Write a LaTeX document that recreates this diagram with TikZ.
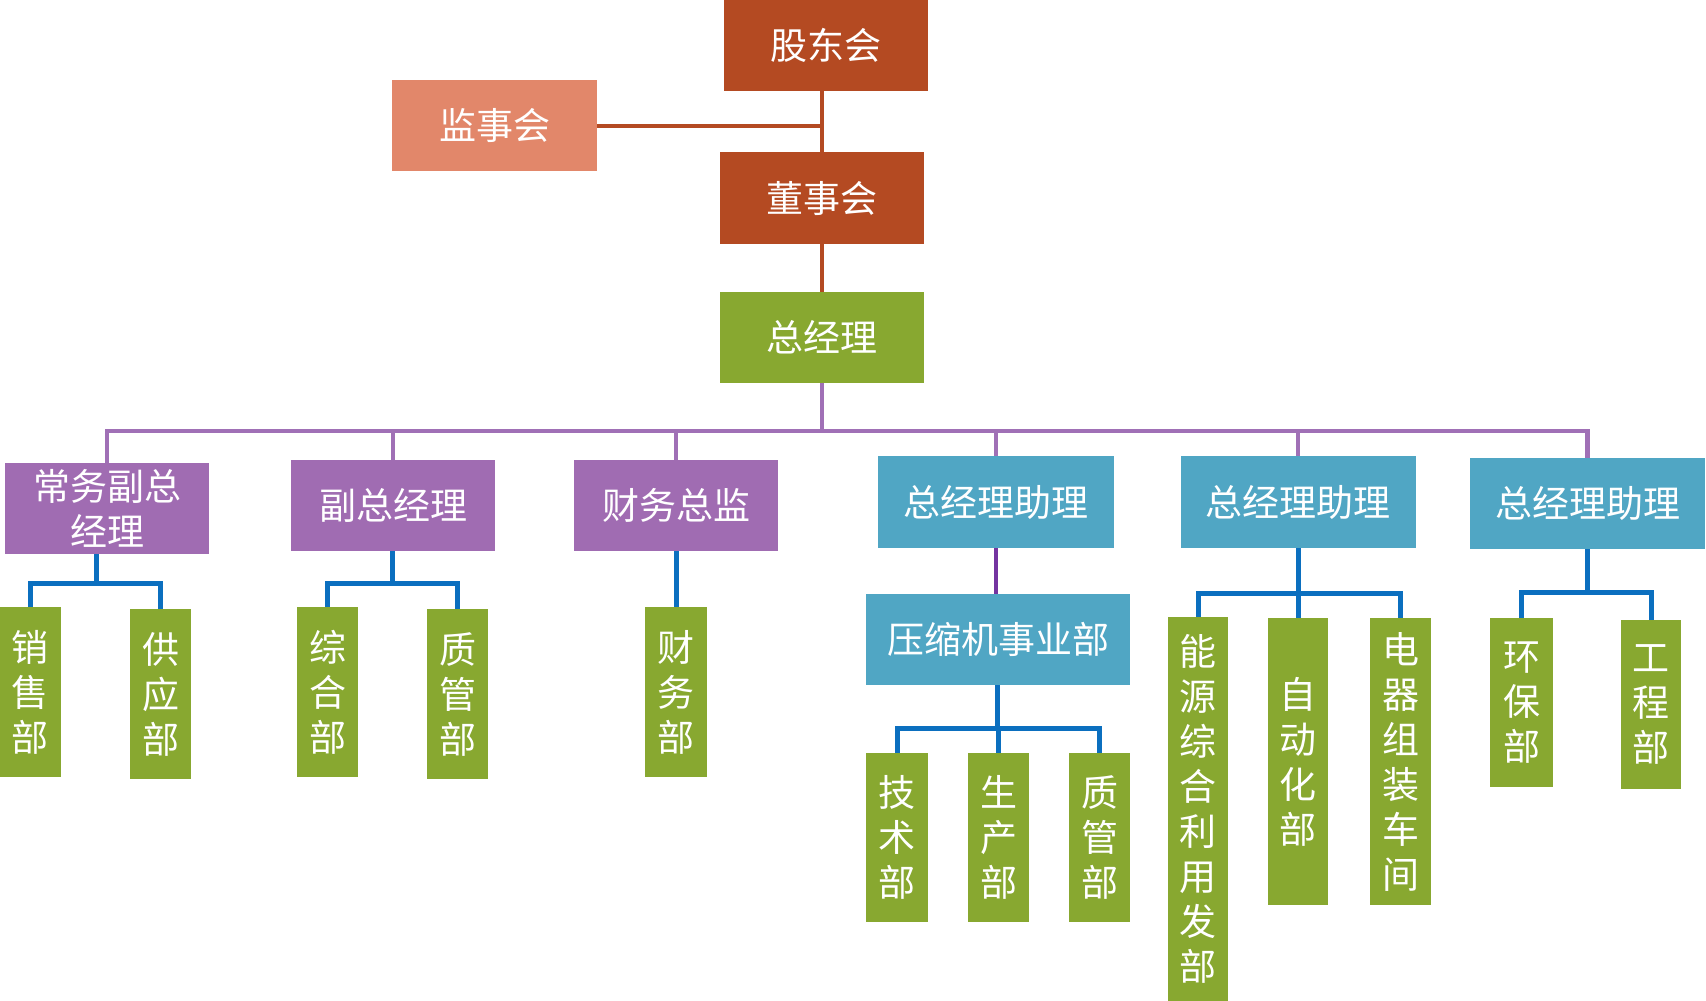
\documentclass[tikz,border=0pt]{standalone}
\usepackage{fontspec}
\setmainfont{Noto Sans CJK SC}
\definecolor{cred}{HTML}{B44A22}
\definecolor{csalmon}{HTML}{E2876A}
\definecolor{cgreen}{HTML}{88A830}
\definecolor{cpurple}{HTML}{A06CB2}
\definecolor{cblue}{HTML}{50A6C4}
\definecolor{lblue}{HTML}{0B6FBF}
\definecolor{lpurple}{HTML}{A070B6}
\definecolor{ldpurple}{HTML}{7434A0}
\tikzset{
  orgbox/.style={draw=none, inner sep=0pt, text=white, align=center,
    font=\fontsize{37}{45}\selectfont},
  redbox/.style={orgbox, fill=cred},
  salbox/.style={orgbox, fill=csalmon},
  grnbox/.style={orgbox, fill=cgreen},
  purbox/.style={orgbox, fill=cpurple},
  blubox/.style={orgbox, fill=cblue},
  redline/.style={draw=cred, line width=4pt},
  purline/.style={draw=lpurple, line width=4.5pt},
  dpline/.style={draw=ldpurple, line width=4.5pt},
  bluline/.style={draw=lblue, line width=5pt},
}
\begin{document}
\begin{tikzpicture}[x=1pt,y=-1pt]
\useasboundingbox (0,0) rectangle (1706,1001);
% top
\node[redbox, minimum width=204pt, minimum height=91pt] (gd) at (826,45.5) {股东会};
\node[salbox, minimum width=205pt, minimum height=91pt] (js) at (494.5,125.5) {监事会};
\node[redbox, minimum width=204pt, minimum height=92pt] (ds) at (822,198) {董事会};
\node[grnbox, minimum width=204pt, minimum height=91pt] (zjl) at (822,337.5) {总经理};
% second level
\node[purbox, minimum width=204pt, minimum height=91pt] (cw) at (107,508.5) {常务副总\\经理};
\node[purbox, minimum width=204pt, minimum height=91pt] (fz) at (393,505.5) {副总经理};
\node[purbox, minimum width=204pt, minimum height=91pt] (cz) at (676,505.5) {财务总监};
\node[blubox, minimum width=236pt, minimum height=92pt] (zl1) at (996,502) {总经理助理};
\node[blubox, minimum width=235pt, minimum height=92pt] (zl2) at (1298,502) {总经理助理};
\node[blubox, minimum width=235pt, minimum height=91pt] (zl3) at (1587.5,503.5) {总经理助理};
\node[blubox, minimum width=264pt, minimum height=91pt] (ysj) at (998,639.5) {压缩机事业部};
% departments
\node[grnbox, minimum width=61pt, minimum height=170pt] (xs) at (30.5,692) {销\\售\\部};
\node[grnbox, minimum width=61pt, minimum height=170pt] (gy) at (160.5,694) {供\\应\\部};
\node[grnbox, minimum width=61pt, minimum height=170pt] (zh) at (327.5,692) {综\\合\\部};
\node[grnbox, minimum width=61pt, minimum height=170pt] (zg) at (457.5,694) {质\\管\\部};
\node[grnbox, minimum width=62pt, minimum height=170pt] (cwb) at (676,692) {财\\务\\部};
\node[grnbox, minimum width=62pt, minimum height=169pt] (js2) at (897,837.5) {技\\术\\部};
\node[grnbox, minimum width=61pt, minimum height=169pt] (sc) at (998.5,837.5) {生\\产\\部};
\node[grnbox, minimum width=61pt, minimum height=169pt] (zg2) at (1099.5,837.5) {质\\管\\部};
\node[grnbox, minimum width=60pt, minimum height=384pt] (ny) at (1198,809) {能\\源\\综\\合\\利\\用\\发\\部};
\node[grnbox, minimum width=60pt, minimum height=287pt] (zd) at (1298,761.5) {自\\动\\化\\部};
\node[grnbox, minimum width=61pt, minimum height=287pt] (dq) at (1400.5,761.5) {电\\器\\组\\装\\车\\间};
\node[grnbox, minimum width=63pt, minimum height=169pt] (hb) at (1521.5,702.5) {环\\保\\部};
\node[grnbox, minimum width=60pt, minimum height=169pt] (gc) at (1651,704.5) {工\\程\\部};
% coordinates
\coordinate (bus) at (822,431);
\coordinate (b1) at (96,583);
\coordinate (b2) at (392,583);
\coordinate (b3) at (997,728);
\coordinate (b4) at (1298,593);
\coordinate (b5) at (1587.5,592);
% red connectors
\draw[redline] (ds.north) -- (ds.north |- gd.south);
\draw[redline] (js.east) -- (js.east -| ds.north);
\draw[redline] (ds.south) -- (zjl.north);
% purple bus
\draw[purline] (zjl.south) -- (bus);
\draw[purline] (cw.north) -- (cw.north |- bus) -- (zl3.north |- bus) -- (zl3.north);
\draw[purline] (fz.north) -- (fz.north |- bus);
\draw[purline] (cz.north) -- (cz.north |- bus);
\draw[purline] (zl1.north) -- (zl1.north |- bus);
\draw[purline] (zl2.north) -- (zl2.north |- bus);
\draw[dpline] (zl1.south) -- (ysj.north -| zl1.south);
% blue connectors
\draw[bluline] (b1 |- cw.south) -- (b1);
\draw[bluline] (xs.north) -- (xs.north |- b1) -- (gy.north |- b1) -- (gy.north);
\draw[bluline] (b2 |- fz.south) -- (b2);
\draw[bluline] (zh.north) -- (zh.north |- b2) -- (zg.north |- b2) -- (zg.north);
\draw[bluline] (cz.south) -- (cwb.north);
\draw[bluline] (b3 |- ysj.south) -- (b3);
\draw[bluline] (js2.north) -- (js2.north |- b3) -- (zg2.north |- b3) -- (zg2.north);
\draw[bluline] (sc.north |- b3) -- (sc.north);
\draw[bluline] (zl2.south) -- (zd.north);
\draw[bluline] (ny.north) -- (ny.north |- b4) -- (dq.north |- b4) -- (dq.north);
\draw[bluline] (zl3.south) -- (b5);
\draw[bluline] (hb.north) -- (hb.north |- b5) -- (gc.north |- b5) -- (gc.north);
\end{tikzpicture}
\end{document}
